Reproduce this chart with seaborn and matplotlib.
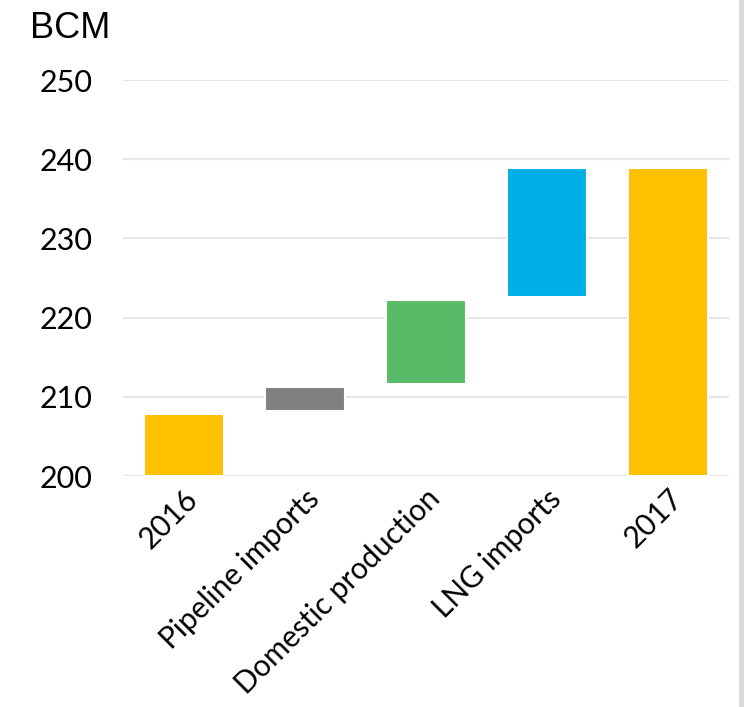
import matplotlib
matplotlib.use("Agg")
import matplotlib.pyplot as plt
import seaborn as sns
import pandas as pd
from matplotlib.patches import Rectangle

categories = ["2016", "Pipeline imports", "Domestic production", "LNG imports", "2017"]
bar_bottom = [200.0, 208.2, 211.6, 222.6, 200.0]
bar_top = [207.8, 211.2, 222.2, 238.9, 238.9]
bar_colors = ["#FFC000", "#808080", "#58BB68", "#00AFE6", "#FFC000"]
y_ticks = [200, 210, 220, 230, 240, 250]
unit_label = "BCM"

sns.set_style("white")
plt.rcParams["font.family"] = ["Lato", "DejaVu Sans"]
plt.rcParams["text.color"] = "black"
plt.rcParams["xtick.color"] = "black"
plt.rcParams["ytick.color"] = "black"

df = pd.DataFrame({
    "category": categories,
    "height": [t - b for t, b in zip(bar_top, bar_bottom)],
})

fig = plt.figure(figsize=(7.44, 7.07), dpi=100)
ax = fig.add_axes([123 / 744, 1 - 476 / 707, (729 - 123) / 744, (476 - 80) / 707])

sns.barplot(data=df, x="category", y="height", hue="category",
            palette=bar_colors, saturation=1, legend=False, width=0.66, ax=ax,
            edgecolor="white", linewidth=1.5, zorder=3)

for p, b in zip(ax.patches, bar_bottom):
    p.set_y(b)

ax.set_ylim(200, 250)
ax.set_yticks(y_ticks)
ax.set_yticklabels([str(t) for t in y_ticks], fontsize=22, color="black")
ax.yaxis.grid(True, color="#E6E6E6", linewidth=1.5, zorder=0)
ax.set_axisbelow(True)
ax.tick_params(axis="y", length=0, pad=22)
ax.tick_params(axis="x", length=0, pad=6)
ax.set_xticks(range(len(categories)))
ax.set_xticklabels(categories, rotation=45, ha="right", rotation_mode="anchor",
                   fontsize=21.5, color="black")
ax.set_xlabel("")
ax.set_ylabel("")
for s in ax.spines.values():
    s.set_visible(False)

fig.text(30 / 744, 1 - 28 / 707, unit_label, ha="left", va="center",
         fontsize=26, color="black", family=["Liberation Sans", "DejaVu Sans"])

fig.patches.append(Rectangle((739 / 744, 0), 5 / 744, 1, transform=fig.transFigure,
                             facecolor="#D9D9D9", edgecolor="none"))

fig.savefig("out.png", dpi=100)
